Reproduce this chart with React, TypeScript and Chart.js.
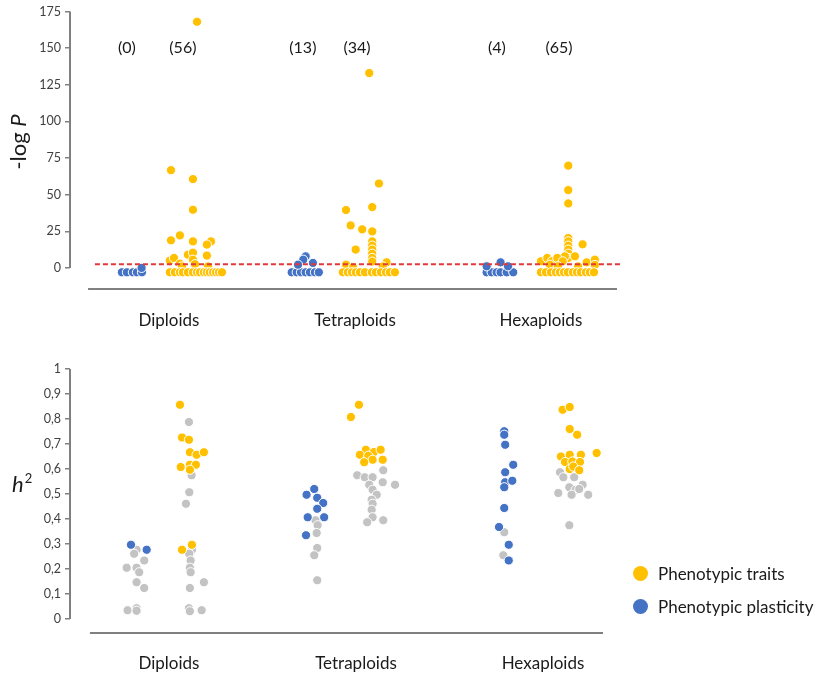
import React, { useEffect, useRef } from 'react';
import { Chart, registerables } from 'chart.js';

Chart.register(...registerables);

// ---------- data ----------
const categories = ['Diploids', 'Tetraploids', 'Hexaploids'];
const categoryX = [1, 2, 3];
const seriesNames = ['Phenotypic traits', 'Phenotypic plasticity'];

const topTicks = [0, 25, 50, 75, 100, 125, 150, 175];
const bottomTicks = [0, 0.1, 0.2, 0.3, 0.4, 0.5, 0.6, 0.7, 0.8, 0.9, 1];

const countLabels = ['(0)', '(56)', '(13)', '(34)', '(4)', '(65)'];
const countX = [0.774, 1.075, 1.72, 2.011, 2.763, 3.097];
const countLevel = 150;

const threshold = 2.5;
const thresholdFrom = 0.602;
const thresholdTo = 3.425;

// -log P, phenotypic traits  [jittered x, value]
const topTraits: number[][] = [
  [1.151, 168], [1.011, 66.7], [1.129, 60.6], [1.129, 39.7], [1.059, 22.2], [1.011, 18.8],
  [1.129, 18.1], [1.226, 18.1], [1.204, 15.9], [1.102, 9], [1.129, 10.4], [1.204, 8.4],
  [1.005, 5], [1.027, 6.8], [1.059, 2.9], [1.129, 5.6], [1.07, 1], [1.14, 2.5], [1.21, 1],
  [1.005, -3], [1.032, -3], [1.059, -3], [1.075, -3], [1.102, -3], [1.129, -3], [1.151, -3],
  [1.167, -3], [1.188, -3], [1.204, -3], [1.22, -3], [1.237, -3], [1.253, -3], [1.269, -3], [1.285, -3],
  [2.077, 133], [2.129, 57.6], [1.952, 39.5], [2.093, 41.5], [1.977, 29], [2.039, 26.3],
  [2.093, 24.9], [2.004, 12.5], [2.093, 18.1], [2.093, 15.2], [2.093, 12.5], [2.093, 9.7],
  [2.093, 6.8], [2.093, 4.3], [2.17, 3.8], [1.952, 2.2], [2.15, 1], [1.99, 0.5],
  [1.935, -3], [1.962, -3], [1.984, -3], [2.005, -3], [2.027, -3], [2.054, -3], [2.091, -3],
  [2.113, -3], [2.14, -3], [2.167, -3], [2.188, -3], [2.215, -3],
  [3.147, 69.8], [3.147, 53.1], [3.147, 44], [3.224, 16.1], [3.147, 20.4], [3.147, 18.1],
  [3.147, 15.2], [3.147, 12.5], [3.147, 9.7], [3.147, 6.8], [3.129, 7.9], [3.183, 7.9],
  [3.0, 4.5], [3.034, 6.8], [3.058, 4.5], [3.088, 6.8], [3.117, 4.5], [3.246, 3.8],
  [3.29, 5.6], [3.048, 2.2], [3.091, 1.1], [3.29, 2], [3.2, 1],
  [3.0, -3], [3.027, -3], [3.054, -3], [3.081, -3], [3.102, -3], [3.124, -3], [3.145, -3],
  [3.172, -3], [3.194, -3], [3.215, -3], [3.242, -3], [3.263, -3], [3.285, -3],
];

// -log P, phenotypic plasticity
const topPlasticity: number[][] = [
  [0.747, -3], [0.774, -3], [0.806, -3], [0.828, -3], [0.855, -3], [0.853, 0],
  [1.66, -3], [1.687, -3], [1.71, -3], [1.735, -3], [1.758, -3], [1.785, -3], [1.806, -3],
  [1.735, 7.9], [1.722, 5.6], [1.774, 3.4], [1.694, 2.2],
  [2.708, -3], [2.735, -3], [2.762, -3], [2.783, -3], [2.816, -3], [2.851, -3],
  [2.783, 3.8], [2.823, 1.1], [2.708, 1.1],
];

// h2, phenotypic traits
const h2Traits: number[][] = [
  [1.059, 0.857], [1.07, 0.726], [1.107, 0.717], [1.112, 0.667], [1.148, 0.657], [1.187, 0.667],
  [1.063, 0.608], [1.112, 0.617], [1.144, 0.617], [1.112, 0.597], [1.07, 0.277], [1.123, 0.297],
  [2.016, 0.857], [1.973, 0.808], [2.053, 0.677], [2.096, 0.668], [2.132, 0.677], [2.021, 0.657],
  [2.066, 0.653], [2.089, 0.637], [2.143, 0.637], [2.044, 0.627],
  [3.105, 0.837], [3.143, 0.848], [3.143, 0.76], [3.183, 0.737], [3.287, 0.664], [3.096, 0.65],
  [3.143, 0.657], [3.203, 0.657], [3.118, 0.628], [3.157, 0.63], [3.198, 0.628], [3.143, 0.6],
  [3.162, 0.61], [3.194, 0.595],
];

// h2, phenotypic plasticity
const h2Plasticity: number[][] = [
  [0.797, 0.297], [0.881, 0.277],
  [1.777, 0.52], [1.736, 0.497], [1.793, 0.485], [1.825, 0.464], [1.793, 0.441], [1.742, 0.407],
  [1.83, 0.407], [1.733, 0.335],
  [2.793, 0.751], [2.793, 0.737], [2.798, 0.697], [2.841, 0.617], [2.798, 0.587], [2.798, 0.547],
  [2.836, 0.553], [2.793, 0.527], [2.793, 0.444], [2.765, 0.368], [2.817, 0.297], [2.817, 0.234],
];

// h2, non-significant estimates (grey)
const h2Other: number[][] = [
  [0.827, 0.277], [0.814, 0.261], [0.868, 0.234], [0.774, 0.205], [0.827, 0.205], [0.841, 0.187],
  [0.827, 0.147], [0.868, 0.124], [0.779, 0.035], [0.827, 0.043], [0.827, 0.033],
  [1.107, 0.788], [1.121, 0.575], [1.109, 0.507], [1.091, 0.461], [1.123, 0.277], [1.109, 0.261],
  [1.116, 0.234], [1.112, 0.205], [1.116, 0.187], [1.187, 0.147], [1.112, 0.124], [1.107, 0.043],
  [1.112, 0.031], [1.175, 0.035],
  [1.784, 0.395], [1.795, 0.375], [1.79, 0.344], [1.793, 0.284], [1.777, 0.255], [1.793, 0.155],
  [2.146, 0.595], [2.007, 0.575], [2.047, 0.567], [2.089, 0.567], [2.143, 0.547], [2.209, 0.537],
  [2.071, 0.537], [2.089, 0.517], [2.111, 0.497], [2.084, 0.477], [2.089, 0.461], [2.084, 0.437],
  [2.089, 0.407], [2.06, 0.387], [2.146, 0.395],
  [2.793, 0.347], [2.788, 0.255],
  [3.091, 0.587], [3.109, 0.567], [3.167, 0.567], [3.212, 0.537], [3.141, 0.527], [3.175, 0.517],
  [3.194, 0.52], [3.082, 0.504], [3.153, 0.497], [3.242, 0.497], [3.141, 0.375],
];

// ---------- styles ----------
const YELLOW = '#FFC000';
const BLUE = '#4472C4';
const GREY = '#C3C3C3';
const RED = '#E0383B';
const AXIS = '#808080';
const TEXT = '#1a1a1a';
const TICK = '#404040';
const FONT = 'Lato, "Noto Sans", sans-serif';

Chart.defaults.font.family = FONT;

const toPts = (arr: number[][]) => arr.map(([x, y]) => ({ x, y }));

const pointStyle = (color: string) => ({
  backgroundColor: color,
  borderColor: '#ffffff',
  borderWidth: 1,
  pointRadius: 4.6,
  pointHoverRadius: 4.6,
});

type DecorCfg = {
  yTop: number;
  xStart: number;
  counts?: boolean;
  title: 'logp' | 'h2';
};

const makeDecor = (cfg: DecorCfg) => ({
  id: 'decor',
  beforeDatasetsDraw(chart: any) {
    const { ctx, chartArea, scales } = chart;
    const xs = scales.x;
    const ys = scales.y;
    ctx.save();
    ctx.strokeStyle = AXIS;
    ctx.lineWidth = 2;
    ctx.beginPath();
    ctx.moveTo(chartArea.left, ys.getPixelForValue(cfg.yTop));
    ctx.lineTo(chartArea.left, ys.getPixelForValue(0));
    ctx.stroke();
    ctx.beginPath();
    ctx.moveTo(xs.getPixelForValue(cfg.xStart), chartArea.bottom);
    ctx.lineTo(chartArea.right, chartArea.bottom);
    ctx.stroke();
    ctx.restore();
  },
  afterDraw(chart: any) {
    const { ctx, scales } = chart;
    const xs = scales.x;
    const ys = scales.y;
    ctx.save();
    ctx.fillStyle = TEXT;
    if (cfg.counts) {
      ctx.font = `16px ${FONT}`;
      ctx.textAlign = 'center';
      ctx.textBaseline = 'middle';
      countLabels.forEach((t, i) => {
        ctx.fillText(t, xs.getPixelForValue(countX[i]), ys.getPixelForValue(countLevel));
      });
    }
    ctx.textAlign = 'left';
    ctx.textBaseline = 'alphabetic';
    if (cfg.title === 'logp') {
      const normal = `22px ${FONT}`;
      const italic = `italic 22px ${FONT}`;
      ctx.font = normal;
      const w1 = ctx.measureText('-log ').width;
      ctx.font = italic;
      const w2 = ctx.measureText('P').width;
      ctx.translate(26, 142);
      ctx.rotate(-Math.PI / 2);
      const start = -(w1 + w2) / 2;
      ctx.font = normal;
      ctx.fillText('-log ', start, 0);
      ctx.font = italic;
      ctx.fillText('P', start + w1, 0);
    } else {
      ctx.font = `italic 22px ${FONT}`;
      const wh = ctx.measureText('h').width;
      ctx.fillText('h', 12, 152);
      ctx.font = `13px ${FONT}`;
      ctx.fillText('2', 13 + wh, 143);
    }
    ctx.restore();
  },
});

export default function App() {
  const topRef = useRef<HTMLCanvasElement | null>(null);
  const bottomRef = useRef<HTMLCanvasElement | null>(null);

  useEffect(() => {
    const top = new Chart(topRef.current as HTMLCanvasElement, {
      type: 'scatter',
      data: {
        datasets: [
          {
            type: 'line',
            label: 'threshold',
            data: [
              { x: thresholdFrom, y: threshold },
              { x: thresholdTo, y: threshold },
            ],
            borderColor: RED,
            borderWidth: 2,
            borderDash: [5, 3],
            pointRadius: 0,
            fill: false,
            clip: false,
          } as any,
          { label: seriesNames[0], data: toPts(topTraits), ...pointStyle(YELLOW), clip: false } as any,
          { label: seriesNames[1], data: toPts(topPlasticity), ...pointStyle(BLUE), clip: false } as any,
        ],
      },
      options: {
        responsive: false,
        animation: false,
        layout: { padding: { left: 0, right: 207, top: 11, bottom: 0 } },
        plugins: { legend: { display: false }, tooltip: { enabled: false } },
        scales: {
          x: {
            type: 'linear',
            min: 0.468,
            max: 3.409,
            afterBuildTicks: (s: any) => {
              s.ticks = categoryX.map((v) => ({ value: v }));
            },
            afterFit: (s: any) => {
              s.height = 51;
            },
            ticks: {
              autoSkip: false,
              maxRotation: 0,
              padding: 21,
              color: TEXT,
              font: { size: 17 },
              callback: (_v: any, i: number) => categories[i],
            },
            grid: { display: false, drawTicks: false },
            border: { display: false },
          },
          y: {
            type: 'linear',
            min: -14.4,
            max: 175,
            afterBuildTicks: (s: any) => {
              s.ticks = topTicks.map((v) => ({ value: v }));
            },
            afterFit: (s: any) => {
              s.width = 70;
            },
            ticks: { padding: 4, color: TICK, font: { size: 12.5 }, callback: (v: any) => String(v) },
            grid: { drawOnChartArea: false, tickLength: 5, color: AXIS, lineWidth: 1.5 },
            border: { display: false },
          },
        },
      } as any,
      plugins: [makeDecor({ yTop: 175, xStart: 0.565, counts: true, title: 'logp' })],
    });

    const bottom = new Chart(bottomRef.current as HTMLCanvasElement, {
      type: 'scatter',
      data: {
        datasets: [
          { label: seriesNames[0], data: toPts(h2Traits), ...pointStyle(YELLOW) } as any,
          { label: seriesNames[1], data: toPts(h2Plasticity), ...pointStyle(BLUE) } as any,
          { label: 'other', data: toPts(h2Other), ...pointStyle(GREY) } as any,
        ],
      },
      options: {
        responsive: false,
        animation: false,
        layout: { padding: { left: 0, right: 221, top: 29, bottom: 0 } },
        plugins: { legend: { display: false }, tooltip: { enabled: false } },
        scales: {
          x: {
            type: 'linear',
            min: 0.471,
            max: 3.321,
            afterBuildTicks: (s: any) => {
              s.ticks = categoryX.map((v) => ({ value: v }));
            },
            afterFit: (s: any) => {
              s.height = 41;
            },
            ticks: {
              autoSkip: false,
              maxRotation: 0,
              padding: 20,
              color: TEXT,
              font: { size: 17 },
              callback: (_v: any, i: number) => categories[i],
            },
            grid: { display: false, drawTicks: false },
            border: { display: false },
          },
          y: {
            type: 'linear',
            min: -0.056,
            max: 1,
            afterBuildTicks: (s: any) => {
              s.ticks = bottomTicks.map((v) => ({ value: v }));
            },
            afterFit: (s: any) => {
              s.width = 70;
            },
            ticks: {
              padding: 4,
              color: TICK,
              font: { size: 12.5 },
              callback: (v: any) => {
                const n = Number(v);
                if (n === 0 || n === 1) return String(n);
                return n.toFixed(1).replace('.', ',');
              },
            },
            grid: { drawOnChartArea: false, tickLength: 5, color: AXIS, lineWidth: 1.5 },
            border: { display: false },
          },
        },
      } as any,
      plugins: [makeDecor({ yTop: 1, xStart: 0.5775, title: 'h2' })],
    });

    return () => {
      top.destroy();
      bottom.destroy();
    };
  }, []);

  const legendColors = [YELLOW, BLUE];

  return (
    <div style={{ position: 'absolute', left: 0, top: 0, width: 824, height: 674, background: '#fff' }}>
      <canvas ref={topRef} width={824} height={340} style={{ position: 'absolute', left: 0, top: 0, display: 'block' }} />
      <canvas ref={bottomRef} width={824} height={334} style={{ position: 'absolute', left: 0, top: 340, display: 'block' }} />
      {seriesNames.map((name, i) => (
        <div
          key={name}
          style={{
            position: 'absolute',
            left: 633,
            top: 563 + i * 33,
            height: 20,
            display: 'flex',
            alignItems: 'center',
            fontFamily: FONT,
            fontSize: 17,
            color: TEXT,
            whiteSpace: 'nowrap',
          }}
        >
          <span
            style={{
              display: 'inline-block',
              width: 15,
              height: 15,
              borderRadius: '50%',
              background: legendColors[i],
              marginRight: 10,
            }}
          />
          {name}
        </div>
      ))}
    </div>
  );
}
